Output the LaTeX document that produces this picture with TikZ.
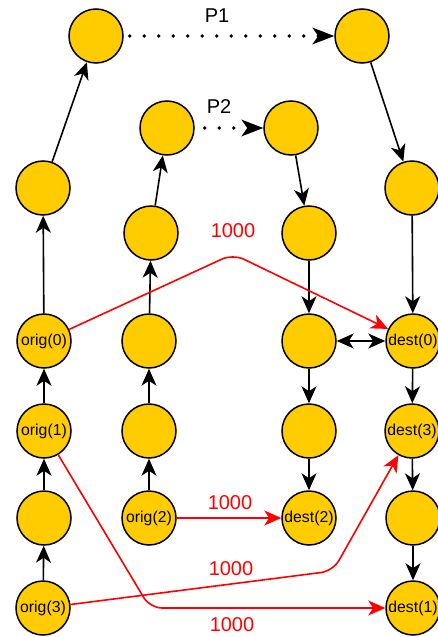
\documentclass[tikz,border=0pt]{standalone}
\usepackage{fontspec}
\setmainfont{Liberation Sans}
\usetikzlibrary{arrows.meta}
\definecolor{nodeyellow}{HTML}{FFCC00}
\definecolor{edgered}{HTML}{FF0000}
\tikzset{
  vtx/.style={circle, draw=black, line width=1.5pt, fill=nodeyellow, minimum size=54pt, inner sep=0pt, font=\fontsize{15.8}{18}\selectfont},
  arr/.style={line width=1.6pt, draw=black, -{Stealth[length=17pt, width=15pt, inset=5pt]}},
  dbl/.style={line width=1.6pt, draw=black, {Stealth[length=17pt, width=15pt, inset=5pt]}-{Stealth[length=17pt, width=15pt, inset=5pt]}},
  dotarr/.style={line width=3.6pt, draw=black, line cap=round, dash pattern=on 0pt off 14.5pt, -{Stealth[length=22pt, width=17pt, inset=6pt, line width=0pt, round=false]}},
  redarr/.style={line width=1.6pt, draw=edgered, rounded corners=12pt, -{Stealth[length=17pt, width=15pt, inset=5pt]}},
  lbl/.style={font=\fontsize{20}{24}\selectfont, inner sep=0pt},
  redlbl/.style={lbl, text=edgered}
}
\begin{document}
\begin{tikzpicture}[x=1pt,y=-1pt]
\useasboundingbox (0,0) rectangle (437,637);
% nodes
\node[vtx] (tl) at (96,36) {};
\node[vtx] (tr) at (362,36) {};
\node[vtx] (p2l) at (167,128) {};
\node[vtx] (p2r) at (291,128) {};
\node[vtx] (c1a) at (43,188) {};
\node[vtx] (o0) at (44,341) {orig(0)};
\node[vtx] (o1) at (44,431) {orig(1)};
\node[vtx] (c1b) at (44,518) {};
\node[vtx] (o3) at (43,608) {orig(3)};
\node[vtx] (c2a) at (151,233) {};
\node[vtx] (c2b) at (149,341) {};
\node[vtx] (c2c) at (149,431) {};
\node[vtx] (o2) at (149,518) {orig(2)};
\node[vtx] (c3a) at (309,233) {};
\node[vtx] (c3b) at (309,341) {};
\node[vtx] (c3c) at (309,431) {};
\node[vtx] (d2) at (309,518) {dest(2)};
\node[vtx] (c4a) at (412,188) {};
\node[vtx] (d0) at (413,341) {dest(0)};
\node[vtx] (d3) at (412,431) {dest(3)};
\node[vtx] (c4b) at (413,518) {};
\node[vtx] (d1) at (413,608) {dest(1)};
% labels
\node[lbl] (lp1) at (217,16) {P1};
\node[lbl] (lp2) at (219,107) {P2};
\node[redlbl] (r1) at (233,231) {1000};
\node[redlbl] (r2) at (230,503) {1000};
\node[redlbl] (r3) at (231,569) {1000};
\node[redlbl] (r4) at (232,625) {1000};
% column 1
\draw[arr] (o3) -- (c1b);
\draw[arr] (c1b) -- (o1);
\draw[arr] (o1) -- (o0);
\draw[arr] (o0) -- (c1a);
\draw[arr] (c1a) -- (tl);
% column 2
\draw[arr] (o2) -- (c2c);
\draw[arr] (c2c) -- (c2b);
\draw[arr] (c2b) -- (c2a);
\draw[arr] (c2a) -- (p2l);
% column 3
\draw[arr] (p2r) -- (c3a);
\draw[arr] (c3a) -- (c3b);
\draw[arr] (c3b) -- (c3c);
\draw[arr] (c3c) -- (d2);
% column 4
\draw[arr] (tr) -- (c4a);
\draw[arr] (c4a) -- (d0);
\draw[arr] (d0) -- (d3);
\draw[arr] (d3) -- (c4b);
\draw[arr] (c4b) -- (d1);
% double
\draw[dbl] (c3b) -- (d0);
% dotted
\draw[dotarr] ([xshift=6pt]tl.east) -- (tr.west);
\draw[dotarr] ([xshift=10pt]p2l.east) -- (p2r.west);
% red
\coordinate (k1) at (233,254);
\coordinate (k2) at (333,571);
\coordinate (k3) at (150,608);
\draw[redarr] (o0) -- (k1) -- (d0);
\draw[redarr] (o2) -- (d2);
\draw[redarr] (o3) -- (k2) -- (d3);
\draw[redarr] (o1) -- (k3) -- (d1);
\end{tikzpicture}
\end{document}
